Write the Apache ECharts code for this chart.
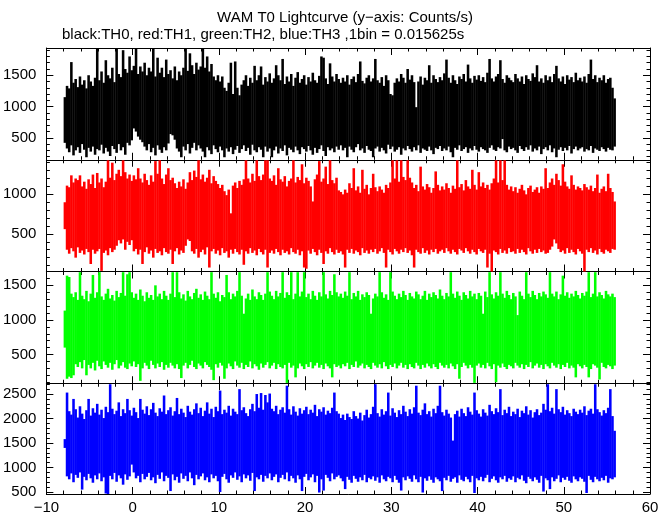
<!DOCTYPE html>
<html><head><meta charset="utf-8">
<script src="https://cdn.jsdelivr.net/npm/echarts@6/dist/echarts.min.js"></script>
<style>html,body{margin:0;padding:0;background:#fff}#c{width:672px;height:515px}</style>
</head><body><div id="c"></div>
<script>
// time span of the light curve (s), 0.25 s envelope bins (max / min of the 0.015625 s samples)
const tStart = -8, tEnd = 56;

const th0Hi = [
1150,1330,1290,1710,1380,1440,1310,1480,1350,1420,1290,1500,1400,1330,1460,1930,
1420,1560,1380,1740,1500,1450,1620,1390,1930,1520,1470,1900,1600,1540,1800,1580,
1650,1930,1520,1640,1560,1700,1500,1620,1560,1930,1480,1780,1540,1620,1470,1750,
1520,1580,1450,1640,1420,1560,1500,1620,1930,1570,1850,1660,1520,1700,1590,1640,
1930,1620,1800,1560,1680,1480,1420,1500,1400,1480,1300,1250,1380,1700,1200,1720,
1300,1180,1350,1420,1500,1330,1460,1380,1650,1420,1500,1640,1350,1470,1400,1530,
1380,1450,1660,1500,1420,1760,1360,1480,1400,1520,1330,1460,1550,1380,1440,1500,
1350,1470,1400,1540,1420,1380,1490,1800,1780,1450,1360,1690,1480,1400,1520,1440,
1380,1460,1400,1500,1350,1440,1480,1390,1520,1720,1410,1370,1460,1500,1400,1450,
1760,1420,1380,1470,1330,1500,1420,1200,1180,1380,1450,1400,1520,1460,1380,1600,
1430,1500,1390,990,1400,1480,1350,1460,1420,1660,1380,1500,1440,1390,1470,1420,
1530,1750,1460,1380,1500,1420,1360,1480,1440,1520,1400,1670,1450,1380,1490,1430,
1500,1410,1470,1390,1540,1760,1450,1400,1480,1520,1740,1440,1380,1500,1460,1420,
1390,1520,1450,1400,1480,1360,1500,1440,1410,1530,1470,1660,1400,1450,1380,1500,
1420,1480,1390,1520,1650,1450,1400,1480,1360,1500,1430,1470,1390,1540,1420,1460,
1400,1480,1380,1520,1750,1440,1500,1390,1460,1420,1500,1380,1440,1460,1300,1130];
const th0Lo = [
420,330,270,380,220,300,350,260,400,310,190,340,280,360,230,320,
300,390,250,340,280,210,370,320,260,400,300,350,230,420,380,460,
650,600,520,470,430,360,300,400,270,340,220,380,310,260,350,300,
410,560,540,470,330,280,190,360,300,400,250,340,420,300,380,330,
280,190,350,300,240,380,320,270,360,300,190,330,280,350,240,310,
370,260,320,380,290,340,230,390,300,270,350,310,190,360,280,330,
190,300,360,250,330,290,380,220,340,310,270,360,300,240,350,320,
280,370,300,230,340,260,320,380,290,210,350,300,330,270,360,310,
380,300,340,190,360,310,270,350,400,300,330,260,370,310,290,190,
330,360,280,340,300,250,390,320,360,280,310,350,230,330,300,370,
320,280,350,300,380,260,330,310,290,360,300,240,340,320,370,290,
330,300,360,270,190,340,310,380,290,320,350,260,330,300,370,310,
280,350,320,300,260,340,380,310,290,350,330,480,300,270,360,320,
340,300,260,370,320,290,350,310,380,280,330,300,360,240,320,350,
300,380,270,330,190,310,350,290,340,300,370,250,320,360,300,330,
350,280,320,300,370,260,330,310,290,350,320,280,340,310,300,360];

const th1Hi = [
900,1110,1090,1240,1150,1200,1180,1240,1100,1160,1070,1190,1130,1250,1080,1270,
1150,1200,1090,1160,1430,1210,1400,1180,1260,1310,1230,1430,1280,1200,1250,1170,
1240,1190,1330,1200,1150,1260,1180,1120,1240,1160,1420,1260,1430,1200,1130,1250,
1330,1180,1210,1140,1080,1160,1100,1190,1070,1150,1280,1180,1300,1220,1430,1190,
1250,1160,1210,1310,1140,1230,1170,1130,1080,1120,1040,990,1060,760,1110,1150,
1080,1170,1120,1190,1430,1200,1150,1260,1170,1430,1230,1180,1250,1430,1430,1200,
1170,1240,1120,1330,1190,1160,1230,1100,1170,1200,1430,1150,1220,1180,1380,1140,
1210,1170,1100,910,1190,1250,1420,1160,1200,1350,1130,1430,1180,1140,1210,1050,
1030,1000,1060,1020,1140,1080,1330,1050,1100,1020,1310,1070,1120,1000,1080,1260,
1090,1040,1100,1060,1020,1120,1080,1150,1430,1200,1430,1160,1430,1220,1180,1430,
1210,1150,1080,1120,1040,1350,1100,1060,1130,1090,1020,1080,1290,1120,1050,1100,
1060,1140,1080,1020,1110,1070,1430,1090,1130,1050,1180,1100,1070,1310,1120,1060,
1280,1100,1150,1080,1120,1060,1140,1200,1430,1150,1430,1180,1430,1120,1060,1100,
1040,1090,1020,1070,1120,1050,1000,1080,1110,1030,1060,1090,1020,1100,1070,1330,
1080,1150,1200,1120,1260,1180,1110,1380,1160,1100,1070,1240,1120,1060,1100,1080,
1050,1130,1090,1060,1110,1040,1080,1250,1020,1070,1100,1040,1260,1080,1030,910];
const th1Lo = [
560,300,250,320,280,200,330,260,290,240,310,270,120,300,250,280,
310,33,260,290,230,320,270,300,350,420,380,430,300,400,360,420,
280,310,240,300,120,270,330,250,290,200,310,260,280,230,320,270,
250,300,120,280,320,240,290,260,350,430,410,280,250,310,200,270,
300,240,330,75,280,310,250,290,230,320,260,280,200,300,250,310,
270,240,300,110,280,250,320,260,290,230,310,270,240,300,75,260,
290,250,310,270,230,300,260,280,240,320,270,250,300,230,280,75,
60,290,250,310,270,230,300,260,120,280,250,320,270,240,300,260,
280,240,75,300,260,310,250,290,270,230,320,260,290,250,300,270,
310,250,280,320,260,75,300,270,240,310,280,250,300,270,320,260,
290,230,75,300,270,250,320,260,290,240,300,270,310,250,280,300,
260,320,280,250,300,270,240,310,290,260,320,280,250,300,270,240,
310,280,260,300,75,250,12,290,270,240,310,260,290,250,320,270,
280,250,310,260,300,270,240,320,280,250,300,260,310,270,290,250,
260,300,340,430,380,310,270,290,250,320,260,300,270,240,310,280,
250,12,300,270,320,260,290,240,310,270,250,300,280,260,310,300];

const th2Hi = [
1135,1640,1620,1380,1330,1400,1290,1690,1350,1300,1420,1270,1380,1650,1320,1400,
1690,1340,1290,1380,1450,1310,1360,1280,1420,1330,1390,1690,1350,1660,1690,1400,
1320,1380,1290,1440,1350,1270,1400,1320,1360,1290,1500,1340,1380,1300,1420,1350,
1290,1380,1690,1330,1690,1400,1310,1370,1280,1420,1340,1300,1390,1450,1320,1370,
1290,1410,1350,1300,1690,1380,1320,1400,1270,1360,1330,1650,1400,1300,1380,1340,
1420,1690,1350,1090,1310,1380,1290,1440,1340,1300,1400,1360,1290,1380,1690,1410,
1350,1300,1420,1340,1390,1690,1320,1400,1360,1690,1300,1380,1690,1340,1410,1690,
1330,1380,1300,1420,1350,1290,1400,1340,1690,1370,1310,1420,1360,1660,1400,1340,
1380,1320,1410,1350,1690,1300,1390,1340,1420,1290,1370,1330,1400,1360,1090,1310,
1380,1340,1690,1400,1320,1370,1290,1690,1410,1350,1300,1380,1330,1420,1360,1290,
1390,1340,1310,1410,1370,1300,1350,1420,1290,1380,1330,1400,1360,1310,1440,1350,
1300,1390,1340,1690,1380,1320,1410,1350,1290,1400,1360,1310,1420,1340,1380,1300,
1390,1350,1090,1410,1330,1690,1370,1310,1400,1350,1690,1380,1320,1420,1360,1300,
1390,1340,1070,1410,1350,1300,1690,1380,1330,1420,1360,1300,1390,1340,1410,1370,
1320,1690,1380,1340,1410,1300,1370,1640,1350,1400,1320,1380,1340,1420,1360,1310,
1390,1350,1410,1690,1330,1380,1690,1340,1400,1360,1310,1420,1370,1340,1380,1330];
const th2Lo = [
600,150,180,160,200,360,320,390,300,420,200,350,300,380,270,410,
330,290,400,350,310,380,280,360,420,300,340,390,310,290,370,330,
400,320,360,120,300,380,340,290,410,350,300,370,320,390,280,350,
310,380,340,300,360,290,160,340,380,300,350,410,320,290,370,340,
300,390,350,320,280,130,360,310,380,340,150,300,370,330,290,400,
340,310,380,290,350,320,400,300,360,330,280,370,310,350,390,300,
340,380,290,360,320,300,350,90,380,310,340,170,300,370,330,290,
360,320,390,300,340,380,310,350,290,370,330,300,170,360,320,340,
300,360,330,380,290,350,320,400,310,340,370,300,350,320,290,380,
340,310,360,300,390,330,290,350,320,370,300,340,380,310,350,290,
360,320,300,380,340,290,350,310,370,330,300,360,320,290,380,340,
310,350,300,370,330,290,360,150,320,380,340,300,350,310,90,340,
370,310,350,300,380,330,290,360,100,340,310,370,320,290,350,330,
300,380,340,310,360,290,350,320,390,300,340,370,310,350,290,360,
330,300,380,340,310,360,290,350,320,380,300,340,310,170,360,330,
300,350,320,170,290,360,340,310,140,380,320,300,350,330,290,340];

const th3Hi = [
1580,2530,2150,2080,2400,2190,2020,2250,2100,1990,2170,2400,2060,2210,2120,2300,
2080,2180,2010,2240,2130,2700,2200,2090,2160,2330,2050,2190,2110,2400,2170,2060,
2220,2130,2010,2400,2180,2100,2250,2070,2190,2320,2120,2050,2210,2140,2470,2090,
2170,2230,2060,2150,2420,2090,2200,2120,2030,2260,2140,2080,2190,2310,2110,2220,
2050,2160,2330,2100,2200,2030,2240,2150,2570,2090,2180,2120,2260,2060,2200,2140,
2090,2600,2170,2230,2110,2050,2190,2300,2150,2500,2220,2520,2180,2480,2330,2510,
2200,2150,2260,2090,2180,2230,2120,2670,2190,2080,2250,2140,2060,2210,2100,2170,
2240,2090,2180,2120,2280,2050,2190,2140,2230,2080,2160,2110,2220,2530,2150,2100,
2010,2080,1970,2100,2030,1990,2150,2050,2000,2120,1960,2070,2180,2020,2090,2240,
2700,2110,2040,2190,2080,2150,2530,2060,2210,2120,2030,2170,2090,2260,2140,2050,
2190,2100,2230,2670,2120,2070,2180,2310,2090,2150,2040,2200,2110,2260,2670,2130,
2060,2180,2100,2020,1550,2090,2160,2040,2200,2110,2050,2230,2140,2080,2530,2170,
2100,2040,2190,2120,2060,2280,2150,2090,2210,2130,2600,2070,2180,2110,2240,2050,
2140,2090,2200,2030,2160,2110,2250,2080,2170,2020,2130,2190,2070,2120,2300,2180,
2700,2150,2220,2100,2600,2190,2130,2240,2080,2170,2110,2050,2200,2140,2090,2180,
2120,2250,2070,2160,2200,2100,2700,2190,2130,2060,2170,2110,2220,2600,2050,1750];
const th3Lo = [
1400,820,760,880,700,850,790,900,550,810,740,870,780,690,840,760,
880,720,800,470,460,830,760,890,710,840,780,650,860,750,820,1060,
900,780,830,700,870,760,810,890,740,800,680,850,770,900,720,830,
790,520,860,740,810,690,880,770,830,720,900,780,640,850,760,820,
880,740,800,700,860,780,830,720,500,810,870,760,690,840,790,900,
750,820,700,860,780,840,730,890,520,800,760,850,710,830,780,880,
740,810,860,700,790,850,760,900,720,830,780,690,840,760,520,810,
870,740,800,860,700,830,490,760,530,850,790,720,880,760,810,840,
780,720,560,810,750,690,830,770,710,800,740,850,700,790,760,820,
730,800,690,840,760,720,810,780,700,830,750,690,530,800,740,820,
770,710,840,760,700,810,490,780,730,820,750,690,800,760,720,520,
790,740,830,710,770,800,690,840,750,720,810,760,700,830,480,780,
740,810,720,790,850,700,770,820,740,690,800,760,830,710,780,750,
820,700,790,760,840,730,680,810,770,720,800,750,690,830,510,780,
740,560,800,720,770,840,700,790,750,810,730,690,820,760,720,800,
770,710,480,830,750,700,810,760,720,790,740,830,690,780,760,800];

const panels = [
  {hi: th0Hi, lo: th0Lo, color: '#000000'},
  {hi: th1Hi, lo: th1Lo, color: '#ff0000'},
  {hi: th2Hi, lo: th2Lo, color: '#00ff00'},
  {hi: th3Hi, lo: th3Lo, color: '#0000ff'}
];

// tick labels
const xTicks = [-10, 0, 10, 20, 30, 40, 50, 60];
const yTicks = [[500, 1000, 1500], [500, 1000], [500, 1000, 1500], [500, 1000, 1500, 2000, 2500]];
const yRanges = [[150, 1935], [25, 1437], [85, 1700], [460, 2720]];
const xRange = [-10, 60];
const xMinorStep = 2, yMinorStep = 100;

function stepValues(lo, hi, step) {
  const out = [];
  for (let v = Math.ceil(lo / step) * step; v <= hi + 1e-9; v += step) out.push(v);
  return out;
}

const FONT = '"Liberation Sans", Arial, Helvetica, sans-serif';
const L = 45, R = 650, TOP = 48, BOT = 495, H = (BOT - TOP) / 4;

const grid = [], xAxis = [], yAxis = [], series = [];
const line = {show: true, onZero: false, lineStyle: {color: '#000', width: 1}};
const noLine = {show: false, onZero: false};

panels.forEach((p, i) => {
  grid.push({left: L, width: R - L, top: TOP + i * H, height: H});
  const xMinor = stepValues(xRange[0], xRange[1], xMinorStep);
  const yMinor = stepValues(yRanges[i][0], yRanges[i][1], yMinorStep);
  const xBase = {type: 'value', gridIndex: i, min: xRange[0], max: xRange[1], splitLine: {show: false}};
  const tickMaj = vals => ({show: true, inside: true, length: 7, customValues: vals, lineStyle: {color: '#000'}});
  const tickMin = vals => ({show: true, inside: true, length: 3.5, customValues: vals, lineStyle: {color: '#000'}});
  xAxis.push(Object.assign({}, xBase, {position: 'bottom', axisLine: line, axisTick: tickMaj(xTicks),
    axisLabel: {show: i === 3, customValues: xTicks, margin: 6, color: '#000', fontFamily: FONT, fontSize: 15,
      formatter: v => String(v).replace('-', '\u2212')}}));
  xAxis.push(Object.assign({}, xBase, {position: 'top', axisLine: line, axisTick: tickMaj(xTicks),
    axisLabel: {show: false, customValues: xTicks}}));
  xAxis.push(Object.assign({}, xBase, {position: 'bottom', axisLine: noLine, axisTick: tickMin(xMinor),
    axisLabel: {show: false, customValues: xMinor}}));
  xAxis.push(Object.assign({}, xBase, {position: 'top', axisLine: noLine, axisTick: tickMin(xMinor),
    axisLabel: {show: false, customValues: xMinor}}));

  const yBase = {type: 'value', gridIndex: i, min: yRanges[i][0], max: yRanges[i][1], splitLine: {show: false}};
  yAxis.push(Object.assign({}, yBase, {position: 'left', axisLine: line, axisTick: tickMaj(yTicks[i]),
    axisLabel: {show: true, customValues: yTicks[i], margin: 10, color: '#000', fontFamily: FONT, fontSize: 15,
      formatter: v => String(v)}}));
  yAxis.push(Object.assign({}, yBase, {position: 'right', axisLine: line, axisTick: tickMaj(yTicks[i]),
    axisLabel: {show: false, customValues: yTicks[i]}}));
  yAxis.push(Object.assign({}, yBase, {position: 'left', axisLine: noLine, axisTick: tickMin(yMinor),
    axisLabel: {show: false, customValues: yMinor}}));
  yAxis.push(Object.assign({}, yBase, {position: 'right', axisLine: noLine, axisTick: tickMin(yMinor),
    axisLabel: {show: false, customValues: yMinor}}));

  // one item per envelope bin: [bin start, bin end, min, max]
  const n = p.hi.length, dt = (tEnd - tStart) / n;
  const data = [];
  for (let k = 0; k < n; k++) {
    const t = tStart + k * dt;
    data.push([t, t + dt, p.lo[k], p.hi[k]]);
  }
  const color = p.color;
  series.push({type: 'custom', xAxisIndex: 4 * i, yAxisIndex: 4 * i, data: data,
    encode: {x: [0, 1], y: [2, 3]}, animation: false, silent: true, z: 1,
    renderItem: (params, api) => {
      const a = api.coord([api.value(0), api.value(3)]);
      const b = api.coord([api.value(1), api.value(2)]);
      const cs = params.coordSys;
      const r = echarts.graphic.clipRectByRect(
        {x: a[0], y: a[1], width: b[0] - a[0] + 0.4, height: b[1] - a[1]},
        {x: cs.x, y: cs.y, width: cs.width, height: cs.height});
      return r ? {type: 'rect', shape: r, style: {fill: color}} : null;
    }});
});

const chart = echarts.init(document.getElementById('c'), null, {renderer: 'canvas'});
chart.setOption({
  animation: false,
  backgroundColor: '#ffffff',
  grid: grid, xAxis: xAxis, yAxis: yAxis, series: series,
  graphic: [
    {type: 'text', x: 345, y: 17.5, silent: true, style: {text: 'WAM T0 Lightcurve (y\u2212axis: Counts/s)',
      font: '15px ' + FONT, fill: '#000', align: 'center', verticalAlign: 'middle', textAlign: 'center', textVerticalAlign: 'middle'}},
    {type: 'text', x: 62, y: 35, silent: true, style: {text: 'black:TH0, red:TH1, green:TH2, blue:TH3 ,1bin = 0.015625s',
      font: '15px ' + FONT, fill: '#000', align: 'left', verticalAlign: 'middle', textAlign: 'left', textVerticalAlign: 'middle'}}
  ]
});
</script>
</body></html>
